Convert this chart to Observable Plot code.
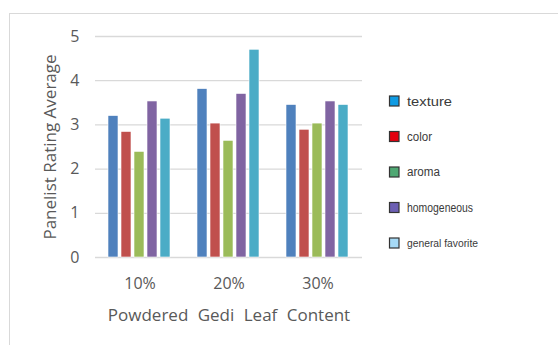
<!DOCTYPE html>
<html><head><meta charset="utf-8">
<script src="https://cdn.jsdelivr.net/npm/d3@7"></script>
<script src="https://cdn.jsdelivr.net/npm/@observablehq/plot@0.6"></script>
<style>
html,body{margin:0;padding:0;background:#fff;}
#wrap{position:relative;width:558px;height:345px;overflow:hidden;}
#frame{position:absolute;left:9px;top:13px;right:-4px;bottom:-4px;border:1px solid #d9d9d9;}
#chart{position:absolute;left:0;top:0;}
#legend{position:absolute;left:0;top:0;}
</style></head><body>
<div id="wrap"><div id="frame"></div><div id="chart"></div><svg id="legend" width="558" height="345"></svg></div>
<script>
// Leaf content levels and sensory attributes
const contents = ["10%", "20%", "30%"];
const attributes = ["texture", "color", "aroma", "homogeneous", "general favorite"];

// Average panelist ratings per attribute, one value per content level
const texture = [3.20, 3.81, 3.45];
const color = [2.84, 3.03, 2.89];
const aroma = [2.39, 2.64, 3.03];
const homogeneous = [3.53, 3.70, 3.53];
const generalFavorite = [3.14, 4.70, 3.45];

const yTicks = [0, 1, 2, 3, 4, 5];

// Bar fills and legend swatch fills
const barColors = ["#4f81bd", "#c0504d", "#9bbb59", "#8064a2", "#4bacc6"];
const legendColors = ["#0f9be3", "#e3000f", "#4fa873", "#6c5fb3", "#a6daf6"];

const seriesValues = [texture, color, aroma, homogeneous, generalFavorite];
const rows = [];
contents.forEach((c, i) => {
  attributes.forEach((a, j) => rows.push({content: c, attribute: a, value: seriesValues[j][i]}));
});

const font = "'Open Sans', Lato, sans-serif";
const chart = Plot.plot({
  width: 558,
  height: 345,
  marginLeft: 95,
  marginRight: 196,
  marginTop: 36,
  marginBottom: 88,
  style: {fontFamily: font, fontSize: "15px", color: "#595959", background: "transparent"},
  fx: {domain: contents, paddingInner: 0, paddingOuter: 0},
  x: {domain: attributes, paddingInner: 0.2, paddingOuter: 0.836, axis: null},
  y: {domain: [0, 5]},
  color: {domain: attributes, range: barColors},
  marks: [
    Plot.gridY(yTicks, {stroke: "#d9d9d9", strokeOpacity: 1, strokeWidth: 1.3}),
    Plot.axisY(yTicks, {tickSize: 0, tickPadding: 16, fontSize: 16, label: "Panelist Rating Average", labelAnchor: "center", labelArrow: "none", labelOffset: 52}),
    Plot.axisFx({anchor: "bottom", tickSize: 0, tickPadding: 20, fontSize: 16, label: "Powdered Gedi Leaf Content", labelAnchor: "center", labelArrow: "none", labelOffset: 63}),
    Plot.barY(rows, {fx: "content", x: "attribute", y: "value", fill: "attribute", stroke: "#ffffff", strokeWidth: 0.6})
  ]
});
chart.querySelectorAll("[aria-label='y-axis label'] text, [aria-label='fx-axis label'] text").forEach(t => t.setAttribute("font-size", "17"));
chart.querySelectorAll("[aria-label='fx-axis label'] text").forEach(t => t.setAttribute("word-spacing", "5"));
document.getElementById("chart").appendChild(chart);

// Legend on the right
const legend = d3.select("#legend");
const legendFont = [13.5, 12.5, 12.5, 12.5, 11.5];
const legendWidth = [45, 25, 33, 66, 71];
attributes.forEach((a, i) => {
  const cy = 101 + i * 35.5;
  legend.append("rect")
    .attr("x", 389.5).attr("y", cy - 5).attr("width", 9.5).attr("height", 10)
    .attr("fill", legendColors[i]).attr("stroke", "#333").attr("stroke-width", 1.2);
  legend.append("text")
    .attr("x", 407).attr("y", cy).attr("dy", "0.35em")
    .attr("font-family", "'Liberation Sans', Arial, sans-serif")
    .attr("font-size", legendFont[i]).attr("fill", "#3a3a3a")
    .attr("textLength", legendWidth[i]).attr("lengthAdjust", "spacingAndGlyphs")
    .text(a);
});
</script>
</body></html>
